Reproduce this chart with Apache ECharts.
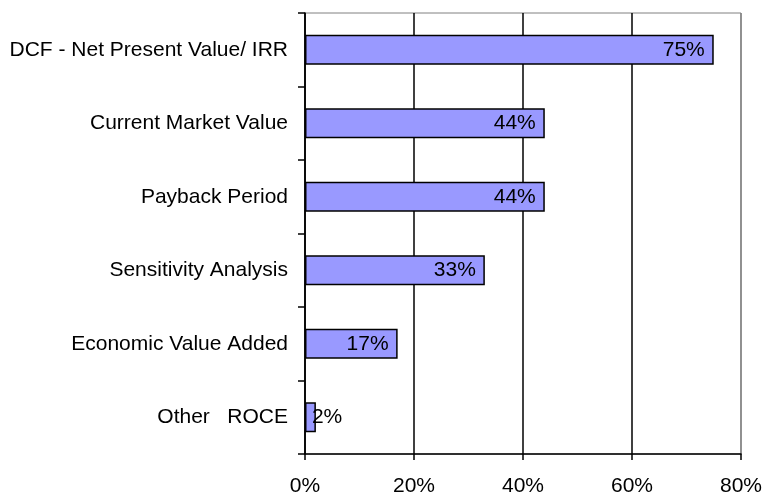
<!DOCTYPE html>
<html>
<head>
<meta charset="utf-8">
<script src="https://cdn.jsdelivr.net/npm/echarts@6/dist/echarts.min.js"></script>
<style>
  html, body { margin: 0; padding: 0; background: #fff; }
  #chart { width: 765px; height: 497px; }
</style>
</head>
<body>
<div id="chart"></div>
<script>
// categories top to bottom, values in percent
var categories = ['DCF - Net Present Value/ IRR', 'Current Market Value', 'Payback Period',
                  'Sensitivity Analysis', 'Economic Value Added', 'Other   ROCE'];
var values = [75, 44, 44, 33, 17, 2];
var xTicks = [0, 20, 40, 60, 80];

var font = 'Liberation Sans, Arial, sans-serif';

var barData = values.map(function (v) {
  var item = { value: v };
  if (v < 5) {
    // small bar: label sticks out of the bar end
    item.label = { position: 'right', distance: -4 };
  }
  return item;
});

var option = {
  animation: false,
  backgroundColor: '#fff',
  grid: {
    left: 305, right: 20, top: 13, bottom: 43,
    show: true, borderColor: '#808080', borderWidth: 1, backgroundColor: 'transparent'
  },
  xAxis: {
    type: 'value',
    min: xTicks[0],
    max: xTicks[xTicks.length - 1],
    interval: 20,
    axisLine: { show: true, lineStyle: { color: '#000', width: 1.5 } },
    axisTick: { show: true, length: 6, lineStyle: { color: '#000', width: 1.5 } },
    axisLabel: {
      color: '#000', fontSize: 21, fontFamily: font, margin: 22,
      formatter: function (v) { return v + '%'; }
    },
    splitLine: { show: true, lineStyle: { color: ['#000', '#000', '#000', '#000', '#808080'], width: 1.5 } }
  },
  yAxis: {
    type: 'category',
    inverse: true,
    data: categories,
    axisLine: { show: true, lineStyle: { color: '#000', width: 1.5 } },
    axisTick: { show: true, length: 7, lineStyle: { color: '#000', width: 1.5 } },
    axisLabel: { color: '#000', fontSize: 21, fontFamily: font, margin: 17 },
    splitLine: { show: false }
  },
  series: [{
    type: 'bar',
    data: barData,
    barWidth: '41%',
    itemStyle: { color: '#9999FF', borderColor: '#000', borderWidth: 1.5 },
    label: {
      show: true,
      position: 'insideRight',
      distance: 9,
      color: '#000',
      fontSize: 21,
      fontFamily: font,
      formatter: function (p) { return p.value + '%'; }
    }
  }]
};

var myChart = echarts.init(document.getElementById('chart'));
myChart.setOption(option);
</script>
</body>
</html>
